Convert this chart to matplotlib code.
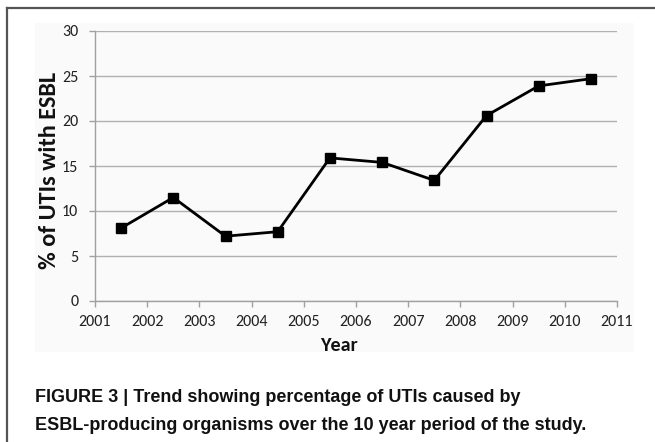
import matplotlib
matplotlib.use("Agg")
import matplotlib.pyplot as plt
from matplotlib.lines import Line2D
from matplotlib.patches import Rectangle

years = [2001.5, 2002.5, 2003.5, 2004.5, 2005.5, 2006.5, 2007.5, 2008.5, 2009.5, 2010.5]
pct_esbl = [8.1, 11.5, 7.2, 7.7, 15.9, 15.4, 13.4, 20.6, 23.9, 24.7]
x_ticks = list(range(2001, 2012))
y_ticks = [0, 5, 10, 15, 20, 25, 30]
caption = ["FIGURE 3 | Trend showing percentage of UTIs caused by",
           "ESBL-producing organisms over the 10 year period of the study."]

tick_font = ['Carlito', 'Lato', 'DejaVu Sans']
cap_font = ['Liberation Sans Narrow', 'Liberation Sans', 'DejaVu Sans']

W, H = 655, 442
fig = plt.figure(figsize=(W / 100, H / 100), dpi=100)
fig.patch.set_facecolor('white')

def fx(px):
    return px / W

def fy(py):
    return 1 - py / H

# outer frame (left and top)
fig.add_artist(Line2D([fx(7), fx(7)], [fy(8), 0], color='#555555', lw=1.6))
fig.add_artist(Line2D([fx(7), 1], [fy(8), fy(8)], color='#555555', lw=1.6))

# chart area background
fig.add_artist(Rectangle((fx(35), fy(352)), fx(634) - fx(35), fy(23) - fy(352),
                         transform=fig.transFigure, facecolor='#fafafa', edgecolor='none', zorder=0))

ax = fig.add_axes([fx(95), fy(301), fx(617) - fx(95), fy(31) - fy(301)])
ax.set_facecolor('none')
ax.plot(years, pct_esbl, color='black', lw=2.0, marker='s', markersize=7.3, zorder=3)
ax.set_xlim(2001, 2011)
ax.set_ylim(0, 30)
ax.set_xticks(x_ticks)
ax.set_yticks(y_ticks)
ax.set_xticklabels([str(t) for t in x_ticks], family=tick_font, fontsize=11.5, color='#222222')
ax.set_yticklabels([str(t) for t in y_ticks], family=tick_font, fontsize=11.5, color='#222222')
ax.yaxis.grid(True, color='#b0b0b0', lw=1)
ax.set_axisbelow(True)
for s in ['top', 'right']:
    ax.spines[s].set_visible(False)
for s in ['left', 'bottom']:
    ax.spines[s].set_color('#a0a0a0')
    ax.spines[s].set_linewidth(1)
ax.tick_params(axis='both', direction='out', length=4, color='#a0a0a0', width=1)
ax.tick_params(axis='x', pad=6)
ax.tick_params(axis='y', pad=8)
ax.set_xlabel('Year', family=tick_font, fontsize=14.5, fontweight='bold', color='#111111')
ax.xaxis.set_label_coords((339 - 95) / 522, (301 - 337) / 270)
ax.set_ylabel('% of UTIs with ESBL', family=tick_font, fontsize=17.5, fontweight='bold', color='#111111')
ax.yaxis.set_label_coords((60 - 95) / 522, (301 - 170) / 270)

fig.text(fx(35), fy(397), caption[0], family=cap_font, fontsize=13, fontweight='bold',
         va='center', ha='left', color='#111111')
fig.text(fx(35), fy(425), caption[1], family=cap_font, fontsize=13, fontweight='bold',
         va='center', ha='left', color='#111111')

fig.savefig('out.png', dpi=100)
